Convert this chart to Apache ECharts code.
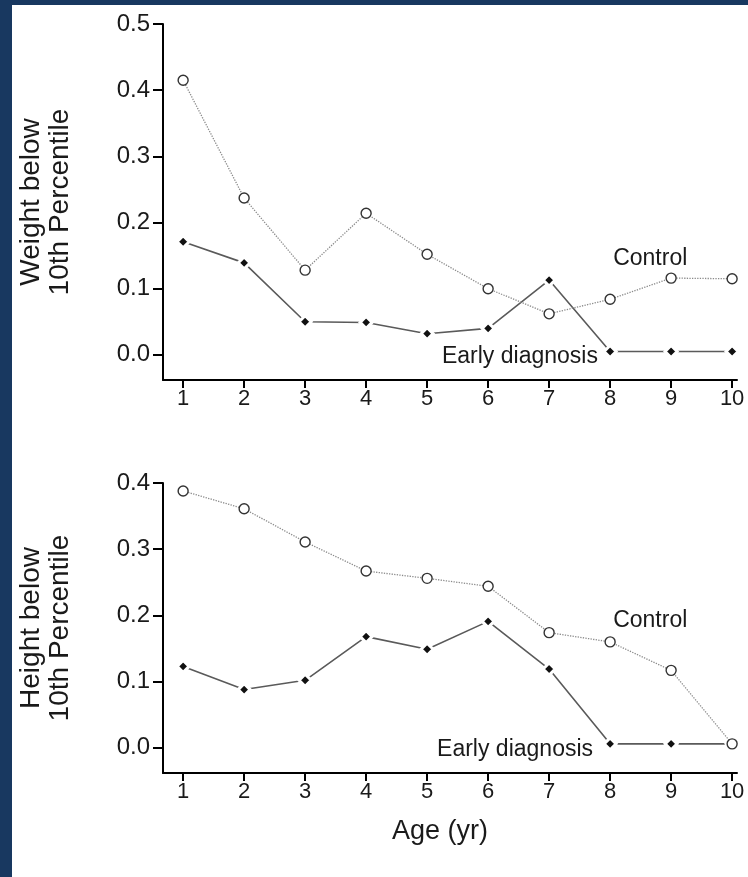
<!DOCTYPE html>
<html>
<head>
<meta charset="utf-8">
<script src="https://cdn.jsdelivr.net/npm/echarts@6/dist/echarts.min.js"></script>
<style>
  html, body { margin: 0; padding: 0; background: #183860; }
  #chart { position: absolute; left: 12px; top: 5px; width: 736px; height: 872px; background: #fff; }
</style>
</head>
<body>
<div id="chart"></div>
<script>
var ages = [1, 2, 3, 4, 5, 6, 7, 8, 9, 10];
var weightControl = [0.415, 0.237, 0.128, 0.214, 0.152, 0.100, 0.062, 0.084, 0.116, 0.115];
var weightEarly   = [0.171, 0.139, 0.050, 0.049, 0.032, 0.040, 0.113, 0.005, 0.005, 0.005];
var heightControl = [0.388, 0.361, 0.311, 0.267, 0.256, 0.244, 0.174, 0.160, 0.117, 0.006];
var heightEarly   = [0.123, 0.088, 0.102, 0.168, 0.149, 0.191, 0.119, 0.006, 0.006, 0.006];
var weightTicks = [0, 0.1, 0.2, 0.3, 0.4, 0.5];
var heightTicks = [0, 0.1, 0.2, 0.3, 0.4];

var font = "'Liberation Sans', Arial, sans-serif";
var ink = '#1a1a1a';

function pairs(ys) {
  return ys.map(function (y, i) { return [ages[i], y]; });
}

function xAxisFor(idx, withName) {
  return {
    type: 'value', gridIndex: idx, min: 0.67, max: 10.08,
    splitLine: { show: false },
    axisLine: { onZero: false, lineStyle: { color: '#000', width: 2 } },
    axisTick: { customValues: ages, length: 8, lineStyle: { color: '#000', width: 2 } },
    axisLabel: { customValues: ages, margin: 8, fontSize: 22, color: ink, fontFamily: font },
    name: withName ? 'Age (yr)' : '',
    nameLocation: 'middle', nameGap: 45,
    nameTextStyle: { fontSize: 27, color: ink, fontFamily: font, padding: [0, 20, 0, 0] }
  };
}

function yAxisFor(idx, max, ticks, name) {
  return {
    type: 'value', gridIndex: idx, min: -0.038, max: max,
    splitLine: { show: false },
    axisLine: { show: true, lineStyle: { color: '#000', width: 2 } },
    axisTick: { show: true, customValues: ticks, length: 10, lineStyle: { color: '#000', width: 2 } },
    axisLabel: {
      customValues: ticks, margin: 13, fontSize: 24, color: ink, fontFamily: font,
      formatter: function (v) { return v.toFixed(1); }
    },
    name: name, nameLocation: 'middle', nameGap: 88,
    nameTextStyle: { fontSize: 28, lineHeight: 29, color: ink, fontFamily: font }
  };
}

function controlSeries(idx, ys, labelAt) {
  return {
    type: 'line', xAxisIndex: idx, yAxisIndex: idx, data: pairs(ys),
    symbol: 'circle', symbolSize: 10,
    lineStyle: { color: '#8a8a8a', width: 1.3, type: 'dotted' },
    itemStyle: { color: '#fff', borderColor: '#333', borderWidth: 1.4 },
    markPoint: {
      symbolSize: 0, silent: true,
      label: { show: true, position: 'inside', align: 'left', verticalAlign: 'middle',
        formatter: 'Control', fontSize: 23, color: ink, fontFamily: font },
      data: [{ coord: labelAt }]
    },
    z: 3
  };
}

function earlySeries(idx, ys, labelAt) {
  return {
    type: 'line', xAxisIndex: idx, yAxisIndex: idx, data: pairs(ys),
    symbol: 'diamond', symbolSize: 12,
    lineStyle: { color: '#5a5a5a', width: 1.6 },
    itemStyle: { color: '#111', borderColor: '#fff', borderWidth: 3 },
    markPoint: {
      symbolSize: 0, silent: true,
      label: { show: true, position: 'inside', align: 'right', verticalAlign: 'middle',
        formatter: 'Early diagnosis', fontSize: 23, color: ink, fontFamily: font },
      data: [{ coord: labelAt }]
    },
    z: 2
  };
}

var chart = echarts.init(document.getElementById('chart'));
chart.setOption({
  backgroundColor: '#fff',
  animation: false,
  grid: [
    { left: 151, top: 19, width: 574, height: 356, outerBoundsMode: 'none' },
    { left: 151, top: 478, width: 574, height: 290, outerBoundsMode: 'none' }
  ],
  xAxis: [xAxisFor(0, false), xAxisFor(1, true)],
  yAxis: [
    yAxisFor(0, 0.5, weightTicks, 'Weight below\n10th Percentile'),
    yAxisFor(1, 0.4, heightTicks, 'Height below\n10th Percentile')
  ],
  series: [
    controlSeries(0, weightControl, [8.05, 0.145]),
    earlySeries(0, weightEarly, [7.8, -0.003]),
    controlSeries(1, heightControl, [8.05, 0.192]),
    earlySeries(1, heightEarly, [7.72, -0.003])
  ]
});
</script>
</body>
</html>
